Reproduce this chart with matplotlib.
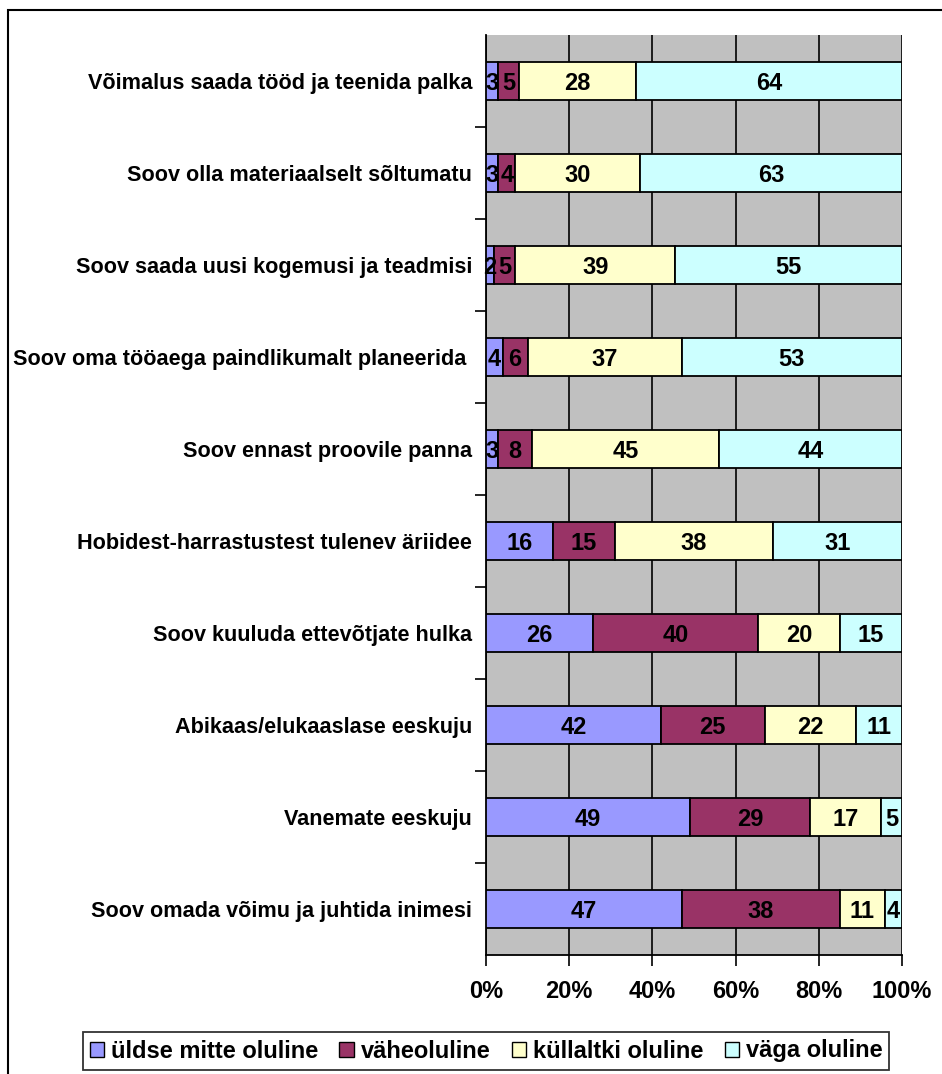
import numpy as np
import matplotlib
matplotlib.use("Agg")
import matplotlib.pyplot as plt
from matplotlib.patches import Rectangle
from matplotlib.ticker import FixedLocator, PercentFormatter

plt.rcParams["font.family"] = ["Liberation Sans", "DejaVu Sans"]
plt.rcParams["font.weight"] = "bold"

categories = [
    "Võimalus saada tööd ja teenida palka",
    "Soov olla materiaalselt sõltumatu",
    "Soov saada uusi kogemusi ja teadmisi",
    "Soov oma tööaega paindlikumalt planeerida ",
    "Soov ennast proovile panna",
    "Hobidest-harrastustest tulenev äriidee",
    "Soov kuuluda ettevõtjate hulka",
    "Abikaas/elukaaslase eeskuju",
    "Vanemate eeskuju",
    "Soov omada võimu ja juhtida inimesi",
]
series_names = ["üldse mitte oluline", "väheoluline", "küllaltki oluline", "väga oluline"]
ylditse = [3, 3, 2, 4, 3, 16, 26, 42, 49, 47]
vahe = [5, 4, 5, 6, 8, 15, 40, 25, 29, 38]
kyllaltki = [28, 30, 39, 37, 45, 38, 20, 22, 17, 11]
vaga = [64, 63, 55, 53, 44, 31, 15, 11, 5, 4]
colors = ["#9999FF", "#993366", "#FFFFCC", "#CCFFFF"]

data = np.array([ylditse, vahe, kyllaltki, vaga], dtype=float)
shares = data / data.sum(axis=0) * 100

fs = 15.6
fig = plt.figure(figsize=(9.42, 10.74), dpi=100)
ax = fig.add_axes([486 / 942, 1 - 955 / 1074, 416 / 942, 920 / 1074])
ax.set_facecolor("#C0C0C0")

y = np.arange(len(categories))[::-1]
left = np.zeros(len(categories))
for i in range(4):
    bars = ax.barh(y, shares[i], left=left, height=0.42, color=colors[i],
                   edgecolor="black", linewidth=1.3, label=series_names[i], zorder=3)
    for rect, val in zip(bars, data[i]):
        ax.text(rect.get_x() + rect.get_width() / 2, rect.get_y() + rect.get_height() / 2,
                f"{int(val)}", ha="center", va="center_baseline", fontsize=17,
                fontweight="bold", zorder=4)
    left += shares[i]

ax.set_xlim(0, 100)
ax.set_ylim(-0.5, len(categories) - 0.5)
ax.set_xticks([0, 20, 40, 60, 80, 100])
ax.xaxis.set_major_formatter(PercentFormatter(decimals=0))
ax.grid(axis="x", color="black", linewidth=1.2, zorder=1)
ax.set_axisbelow(True)

ax.set_yticks(y)
ax.set_yticklabels(categories, fontsize=fs, fontweight="bold")
ax.tick_params(axis="y", length=0, pad=10)
ax.yaxis.set_minor_locator(FixedLocator(np.arange(0.5, len(categories) - 1, 1)))
ax.tick_params(axis="y", which="minor", length=8, width=1.2, direction="out")
ax.tick_params(axis="x", length=8, width=1.2, direction="out", labelsize=17, pad=10)
for lbl in ax.get_xticklabels():
    lbl.set_fontweight("bold")

for side in ["top", "right"]:
    ax.spines[side].set_visible(False)
ax.spines["left"].set_linewidth(1.3)
ax.spines["bottom"].set_linewidth(1.3)

leg = fig.legend(loc="center", bbox_to_anchor=(486 / 942, 1 - 1051 / 1074), ncol=4,
                 prop={"size": 17, "weight": "bold"}, frameon=True, fancybox=False,
                 edgecolor="black", handlelength=0.6, handleheight=0.6,
                 handletextpad=0.3, columnspacing=0.9, borderpad=0.3)
leg.get_frame().set_linewidth(1.3)
for h in leg.legend_handles:
    h.set_linewidth(1.0)

fig.patches.append(Rectangle((8 / 942, -0.2), 1.2, 1.2 - 10 / 1074, fill=False,
                             edgecolor="black", linewidth=1.5,
                             transform=fig.transFigure, figure=fig))

fig.savefig("out.png", dpi=100)
